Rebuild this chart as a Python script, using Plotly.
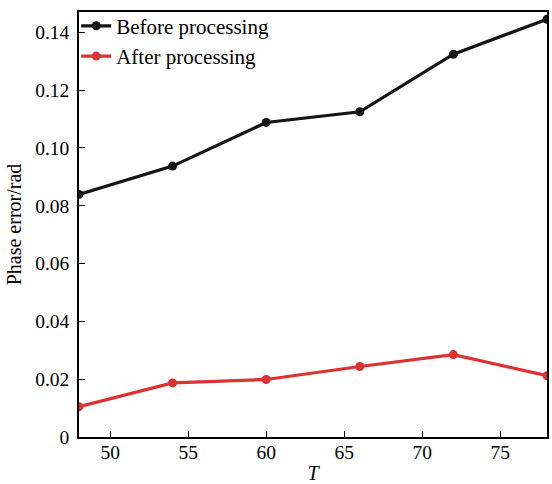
import plotly.graph_objects as go

T = [48, 54, 60, 66, 72, 78]
before = [0.0839, 0.0937, 0.1088, 0.1125, 0.1324, 0.1445]
after = [0.0105, 0.0187, 0.0199, 0.0244, 0.0285, 0.0212]
xticks = [50, 55, 60, 65, 70, 75]
yticks = [0, 0.02, 0.04, 0.06, 0.08, 0.10, 0.12, 0.14]
yticklabels = ["0", "0.02", "0.04", "0.06", "0.08", "0.10", "0.12", "0.14"]

FONT = "Liberation Serif, Times New Roman, serif"

fig = go.Figure()
fig.add_trace(go.Scatter(x=T, y=before, mode="lines+markers", name="Before processing",
                         line=dict(color="#151515", width=3.2),
                         marker=dict(color="#151515", size=9)))
fig.add_trace(go.Scatter(x=T, y=after, mode="lines+markers", name="After processing",
                         line=dict(color="#dc3232", width=3.2),
                         marker=dict(color="#dc3232", size=9)))

axis_common = dict(showgrid=False, zeroline=False, showline=True, linecolor="black",
                   linewidth=1.5, mirror=True, ticks="inside", ticklen=6, tickwidth=1.2,
                   tickcolor="black", tickfont=dict(family=FONT, size=19.5, color="black"))

fig.update_xaxes(range=[48, 78], tickvals=xticks, ticklabelstandoff=-3,
                 title=dict(text="<i>T</i>", font=dict(family=FONT, size=20, color="black"), standoff=4),
                 automargin=False, **axis_common)
fig.update_yaxes(range=[0, 0.147], tickvals=yticks, ticktext=yticklabels, ticklabelstandoff=4,
                 title=dict(text="Phase error/rad", font=dict(family=FONT, size=20, color="black"), standoff=8),
                 automargin=False, **axis_common)

fig.update_layout(
    width=552, height=484,
    margin=dict(l=79, r=5, t=12, b=47),
    plot_bgcolor="white", paper_bgcolor="white",
    font=dict(family=FONT, color="black"),
    legend=dict(x=-0.006, y=1.015, xanchor="left", yanchor="top", bgcolor="rgba(0,0,0,0)",
                font=dict(family=FONT, size=21, color="black"),
                itemwidth=30, tracegroupgap=0),
    showlegend=True,
)

fig.write_html("out.html", config={"displayModeBar": False},
               post_script="document.body.style.margin='0';")
